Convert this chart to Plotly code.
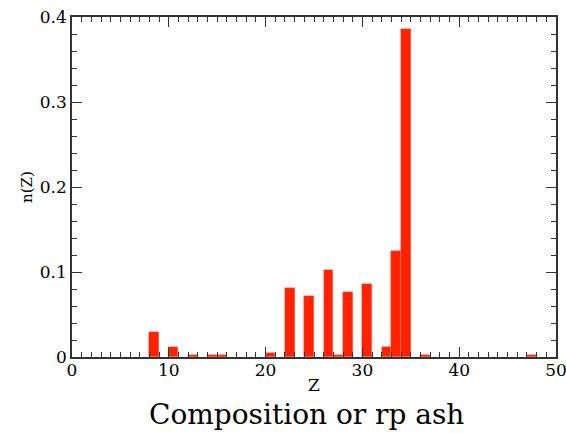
import plotly.graph_objects as go

# Data
z_values = [8, 10, 12, 14, 15, 20, 22, 24, 26, 27, 28, 30, 32, 33, 34, 36, 47]
n_values = [0.030, 0.012, 0.0025, 0.0025, 0.0025, 0.0047, 0.081, 0.072, 0.102, 0.002,
            0.0765, 0.086, 0.012, 0.125, 0.386, 0.002, 0.002]
x_ticks = [0, 10, 20, 30, 40, 50]
y_ticks = [0, 0.1, 0.2, 0.3, 0.4]
y_tick_labels = ["0", "0.1", "0.2", "0.3", "0.4"]

RED = "rgb(255,34,0)"
FONT = "DejaVu Serif"

fig = go.Figure()
fig.add_trace(go.Bar(
    x=z_values, y=n_values, width=1, offset=0,
    marker=dict(color=RED, line=dict(color="rgba(255,120,100,0.8)", width=0.5)),
))

axis_common = dict(
    showline=True, linecolor="#333", linewidth=1.5, mirror="ticks",
    ticks="inside", tickcolor="#333", tickwidth=1.2, ticklen=10,
    showgrid=False, zeroline=False, automargin=False,
    ticklabeloverflow="allow",
    tickfont=dict(family=FONT, size=17, color="black"),
)

fig.update_xaxes(
    range=[0, 50], tickvals=x_ticks,
    minor=dict(dtick=1, ticks="inside", ticklen=5, tickcolor="#333", tickwidth=1.2, showgrid=False),
    title=dict(text="Z", font=dict(family=FONT, size=17, color="black"), standoff=0),
    ticklabelstandoff=-3,
    **axis_common,
)
fig.update_yaxes(
    range=[0, 0.4], tickvals=y_ticks, ticktext=y_tick_labels,
    minor=dict(dtick=0.02, ticks="inside", ticklen=5, tickcolor="#333", tickwidth=1.2, showgrid=False),
    title=dict(text="n(Z)", font=dict(family=FONT, size=15, color="black"), standoff=4),
    **axis_common,
)

fig.add_annotation(
    text="Composition or rp ash", xref="paper", yref="paper",
    x=0.485, y=-0.115, xanchor="center", yanchor="top", showarrow=False,
    font=dict(family=FONT, size=28, color="black"),
)

fig.update_layout(
    width=566, height=433,
    margin=dict(l=72, r=10, t=17, b=76),
    plot_bgcolor="white", paper_bgcolor="white",
    showlegend=False, bargap=0,
)

fig.write_html("out.html")
